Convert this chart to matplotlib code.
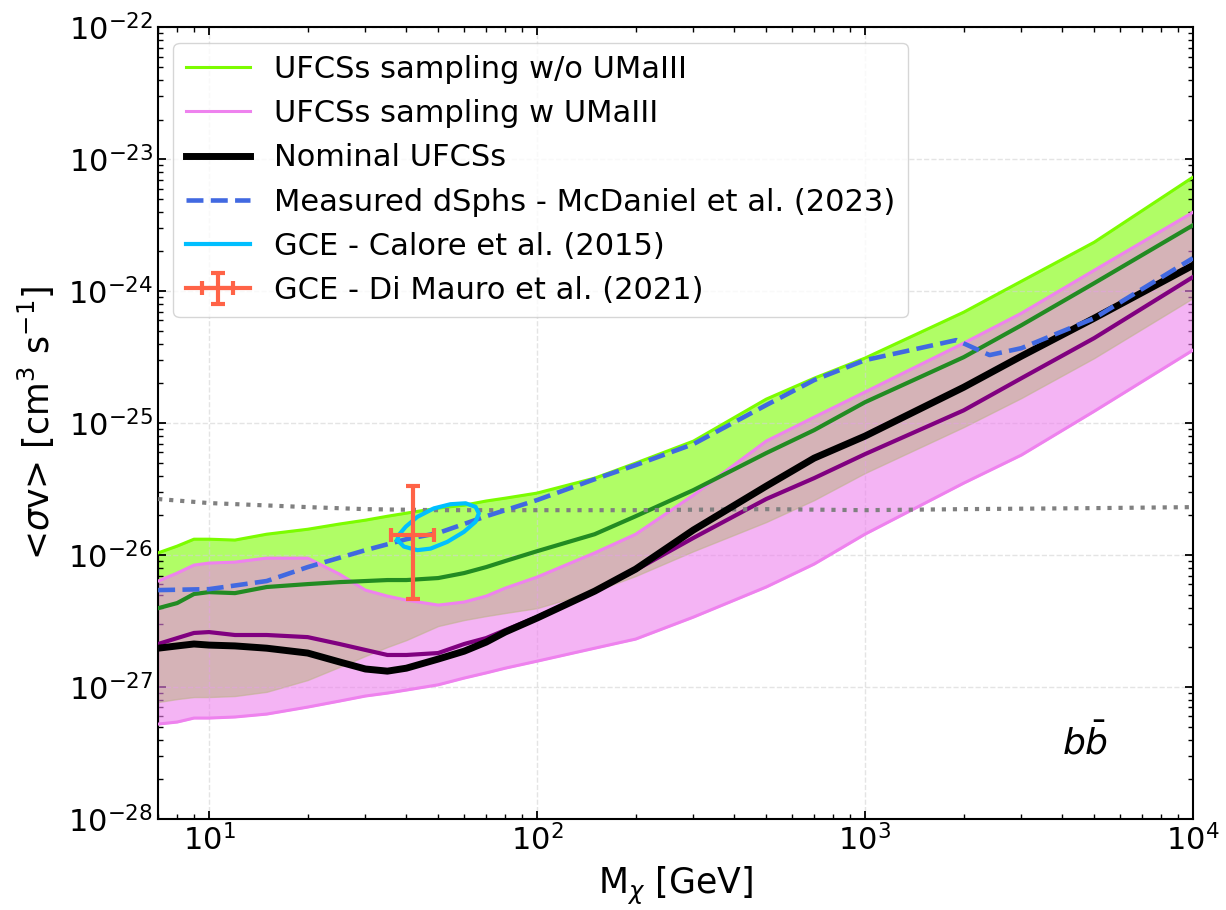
import numpy as np
import matplotlib
matplotlib.use("Agg")
import matplotlib.pyplot as plt
from matplotlib.ticker import FixedLocator

OUT_PATH = "out.png"

# common mass grid for the UFCS bands [GeV]
mass = [7, 8, 9, 10, 12, 15, 20, 25, 30, 35, 40, 50, 60, 70, 80, 100,
        150, 200, 300, 500, 700, 1000, 2000, 3000, 5000, 10000]

# UFCSs sampling w/o UMaIII: upper / lower edge of band and median
wo_upper = [1.04e-26, 1.17e-26, 1.32e-26, 1.32e-26, 1.30e-26, 1.44e-26, 1.57e-26,
            1.72e-26, 1.84e-26, 1.97e-26, 2.08e-26, 2.27e-26, 2.39e-26, 2.57e-26,
            2.70e-26, 2.95e-26, 3.83e-26, 4.98e-26, 7.31e-26, 1.52e-25, 2.19e-25,
            3.11e-25, 6.93e-25, 1.19e-24, 2.35e-24, 7.31e-24]
wo_lower = [7.70e-28, 8.11e-28, 8.40e-28, 8.40e-28, 8.55e-28, 9.20e-28, 1.13e-27,
            1.42e-27, 1.72e-27, 2.01e-27, 2.27e-27, 2.90e-27, 3.22e-27, 3.45e-27,
            3.64e-27, 3.96e-27, 5.33e-27, 6.94e-27, 1.07e-26, 1.78e-26, 2.61e-26,
            4.18e-26, 9.33e-26, 1.55e-25, 3.11e-25, 8.85e-25]
wo_median = [3.96e-27, 4.33e-27, 5.07e-27, 5.24e-27, 5.15e-27, 5.73e-27, 6.03e-27,
             6.24e-27, 6.36e-27, 6.47e-27, 6.47e-27, 6.70e-27, 7.31e-27, 8.11e-27,
             9.01e-27, 1.07e-26, 1.44e-26, 1.97e-26, 3.11e-26, 5.93e-26, 8.85e-26,
             1.44e-25, 3.16e-25, 5.52e-25, 1.15e-24, 3.16e-24]

# UFCSs sampling w UMaIII
w_upper = [6.36e-27, 7.31e-27, 8.40e-27, 8.70e-27, 8.85e-27, 9.49e-27, 9.49e-27,
           7.18e-27, 5.43e-27, 4.89e-27, 4.56e-27, 4.18e-27, 4.41e-27, 4.89e-27,
           5.62e-27, 6.81e-27, 1.04e-26, 1.44e-26, 2.85e-26, 7.31e-26, 1.11e-25,
           1.72e-25, 4.04e-25, 6.81e-25, 1.44e-24, 3.96e-24]
w_lower = [5.24e-28, 5.43e-28, 5.82e-28, 5.82e-28, 5.93e-28, 6.24e-28, 7.05e-28,
           7.83e-28, 8.55e-28, 9.00e-28, 9.49e-28, 1.04e-27, 1.17e-27, 1.28e-27,
           1.39e-27, 1.57e-27, 1.97e-27, 2.31e-27, 3.39e-27, 5.73e-27, 8.55e-27,
           1.44e-26, 3.51e-26, 5.73e-26, 1.23e-25, 3.57e-25]
w_median = [2.12e-27, 2.35e-27, 2.57e-27, 2.61e-27, 2.48e-27, 2.48e-27, 2.39e-27,
            2.12e-27, 1.91e-27, 1.75e-27, 1.75e-27, 1.81e-27, 2.12e-27, 2.35e-27,
            2.70e-27, 3.39e-27, 5.33e-27, 7.70e-27, 1.35e-26, 2.66e-26, 3.83e-26,
            5.82e-26, 1.25e-25, 2.19e-25, 4.41e-25, 1.28e-24]

# nominal UFCSs
nominal = [1.97e-27, 2.05e-27, 2.12e-27, 2.08e-27, 2.05e-27, 1.97e-27, 1.81e-27,
           1.55e-27, 1.37e-27, 1.32e-27, 1.39e-27, 1.63e-27, 1.87e-27, 2.19e-27,
           2.61e-27, 3.33e-27, 5.33e-27, 7.83e-27, 1.55e-26, 3.33e-26, 5.43e-26,
           7.97e-26, 1.87e-25, 3.22e-25, 6.24e-25, 1.57e-24]

# measured dSphs (McDaniel et al. 2023)
dsph_mass = [7, 10, 15, 20, 30, 40, 50, 70, 100, 150, 200, 300, 500, 700,
             1000, 1900, 2400, 3000, 5000, 10000]
dsph_sv = [5.43e-27, 5.52e-27, 6.36e-27, 8.11e-27, 1.09e-26, 1.32e-26, 1.47e-26,
           1.97e-26, 2.61e-26, 3.76e-26, 4.81e-26, 6.94e-26, 1.37e-25, 2.12e-25,
           3.00e-25, 4.26e-25, 3.28e-25, 3.70e-25, 6.24e-25, 1.78e-24]

# thermal relic reference (dotted)
relic_mass = [7, 10, 20, 30, 50, 100, 200, 500, 1000, 2000, 5000, 10000]
relic_sv = [2.66e-26, 2.48e-26, 2.31e-26, 2.23e-26, 2.19e-26, 2.19e-26, 2.19e-26,
            2.23e-26, 2.19e-26, 2.23e-26, 2.27e-26, 2.31e-26]

# GCE Calore et al. (2015) contour
calore_mass = [37.5, 39.3, 43.2, 47.4, 53.3, 59.9, 65.0, 66.5, 65.0, 60.6,
               54.5, 48.5, 43.2, 39.8, 37.9, 37.5]
calore_sv = [1.30e-26, 1.16e-26, 1.09e-26, 1.12e-26, 1.26e-26, 1.50e-26, 1.79e-26,
             2.07e-26, 2.32e-26, 2.47e-26, 2.43e-26, 2.26e-26, 1.95e-26, 1.64e-26,
             1.42e-26, 1.30e-26]

# GCE Di Mauro et al. (2021) best fit with errors
dimauro_mass = 42.0
dimauro_mass_err = [[6.0], [6.7]]
dimauro_sv = 1.42e-26
dimauro_sv_err = [[0.955e-26], [1.91e-26]]

# major tick positions
x_major = [1e1, 1e2, 1e3, 1e4]
y_major = [1e-28, 1e-27, 1e-26, 1e-25, 1e-24, 1e-23, 1e-22]


def make_plot(path: str) -> None:
    plt.rcParams["font.family"] = "DejaVu Sans"
    plt.rcParams["mathtext.fontset"] = "dejavusans"

    fig = plt.figure(figsize=(12.26, 9.10), dpi=100)
    ax = fig.add_axes([0.129, 0.100, 0.844, 0.870])

    ax.fill_between(mass, wo_lower, wo_upper, color="lawngreen", alpha=0.6, zorder=1)
    ax.fill_between(mass, w_lower, w_upper, color="violet", alpha=0.6, zorder=2)

    ax.plot(mass, wo_upper, color="lawngreen", lw=2.2, zorder=3,
            label="UFCSs sampling w/o UMaIII")
    ax.plot(mass, w_upper, color="violet", lw=2.2, zorder=3,
            label="UFCSs sampling w UMaIII")
    ax.plot(mass, w_lower, color="violet", lw=2.2, zorder=3)
    ax.plot(mass, wo_median, color="forestgreen", lw=3, zorder=4)
    ax.plot(mass, w_median, color="purple", lw=3, zorder=4)
    ax.plot(mass, nominal, color="black", lw=5, zorder=5, label="Nominal UFCSs")
    ax.plot(relic_mass, relic_sv, color="gray", lw=3, ls=":", zorder=4)
    ax.plot(dsph_mass, dsph_sv, color="royalblue", lw=3.3, ls="--", zorder=6,
            label="Measured dSphs - McDaniel et al. (2023)")
    ax.plot(calore_mass, calore_sv, color="deepskyblue", lw=3, zorder=6,
            label="GCE - Calore et al. (2015)")
    ax.errorbar(dimauro_mass, dimauro_sv, xerr=dimauro_mass_err, yerr=dimauro_sv_err,
                color="tomato", lw=3, capsize=5, capthick=3, zorder=7,
                label="GCE - Di Mauro et al. (2021)")

    ax.set_xscale("log")
    ax.set_yscale("log")
    ax.xaxis.set_major_locator(FixedLocator(x_major))
    ax.yaxis.set_major_locator(FixedLocator(y_major))
    ax.set_xlim(7, 1e4)
    ax.set_ylim(1e-28, 1e-22)

    ax.set_xlabel(r"M$_\chi$ [GeV]", fontsize=25, labelpad=6)
    ax.set_ylabel(r"<$\sigma$v> [cm$^3$ s$^{-1}$]", fontsize=25, labelpad=8)

    ax.tick_params(which="both", direction="in", top=True, right=True, labelsize=22)
    ax.tick_params(which="major", length=6, width=1.3)
    ax.tick_params(which="minor", length=3.5, width=1.0)
    for spine in ax.spines.values():
        spine.set_linewidth(1.5)

    ax.grid(True, which="major", ls="--", color="lightgray", alpha=0.6, lw=1)

    ax.text(0.896, 0.097, r"$b\bar{b}$", transform=ax.transAxes, fontsize=26,
            ha="center", va="center")

    ax.legend(loc="upper left", fontsize=22, handlelength=2.1, labelspacing=0.5)

    fig.savefig(path, dpi=100)
    plt.close(fig)


if __name__ == "__main__":
    make_plot(OUT_PATH)
